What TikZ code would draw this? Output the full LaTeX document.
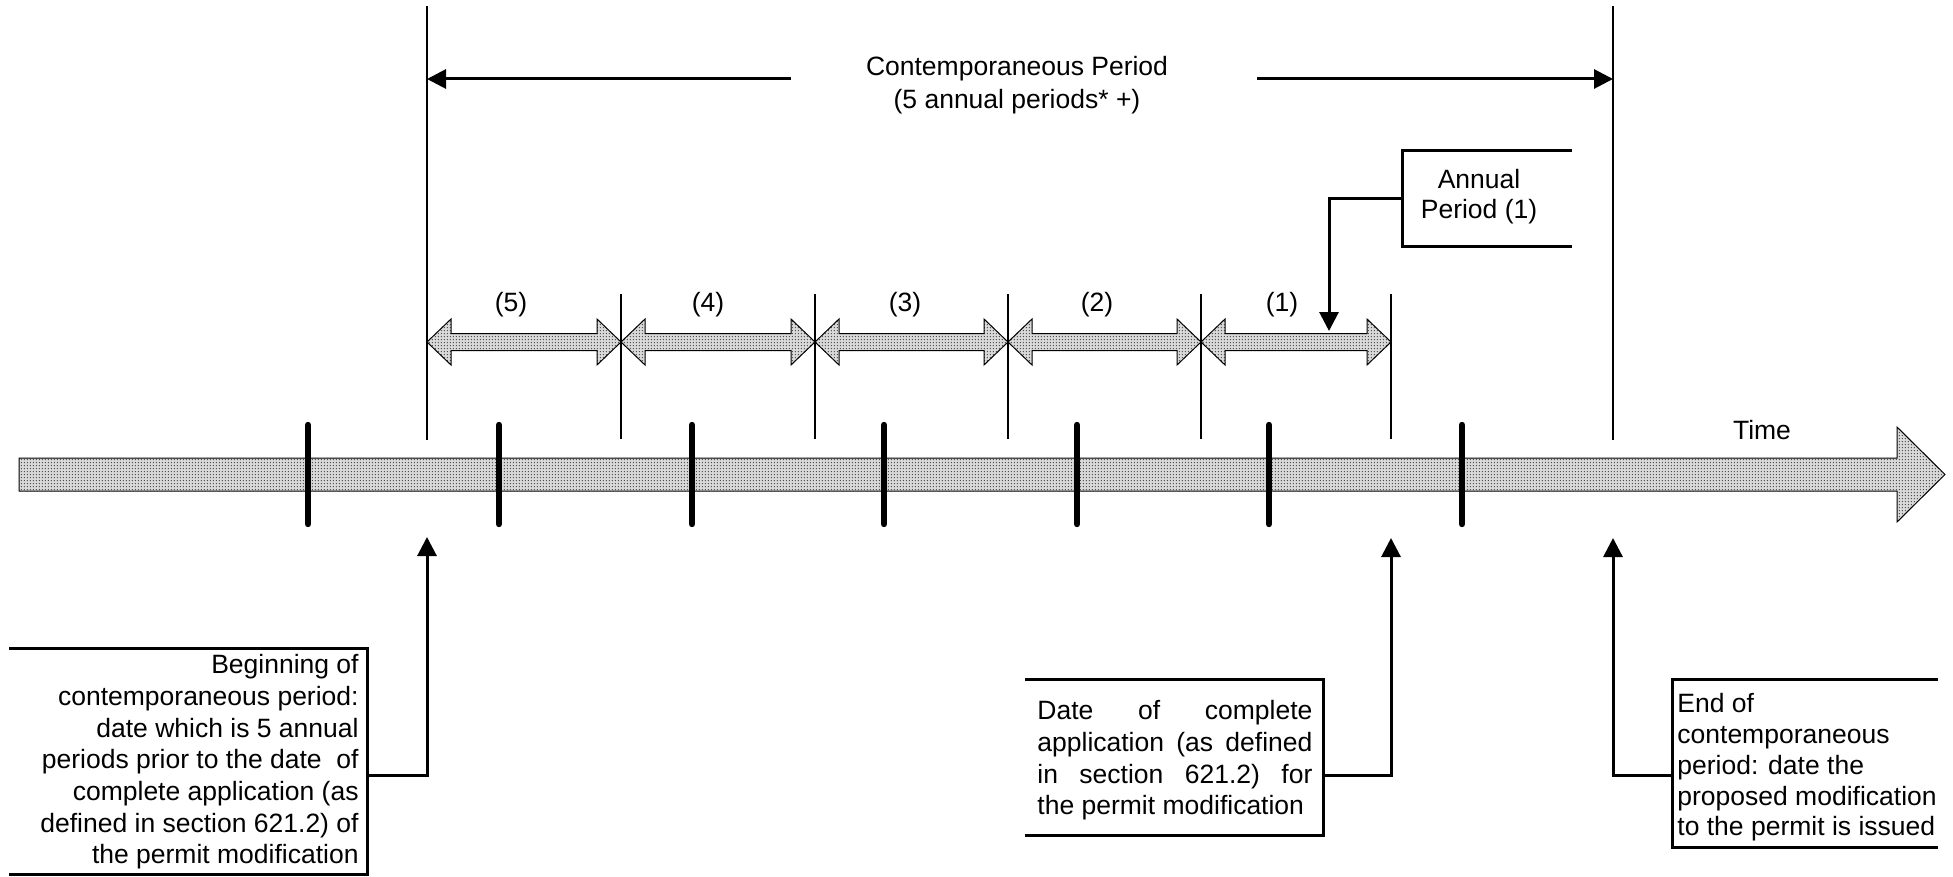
\documentclass[tikz,border=0pt]{standalone}
\usepackage{fontspec}
\setmainfont{Liberation Sans}
\usetikzlibrary{arrows.meta,patterns}
\pgfdeclarepatternformonly{finedots}{\pgfqpoint{-0.5pt}{-0.5pt}}{\pgfqpoint{1pt}{1pt}}{\pgfqpoint{1.5pt}{1.5pt}}{\pgfpathcircle{\pgfqpoint{0.4pt}{0.4pt}}{0.42pt}\pgfusepath{fill}}
\tikzset{
  dotfill/.style={draw=black, line width=0.5pt, preaction={fill=gray!30}, pattern=finedots, pattern color=gray!55!black},
  periodline/.style={line width=1pt},
  tickmark/.style={line width=3.2pt, line cap=round},
  boxline/.style={line width=1.5pt},
  conn/.style={line width=1.5pt, -{Triangle[width=9.5pt,length=9.5pt]}},
  lbl/.style={font=\fontsize{13.25}{15.8}\selectfont, inner sep=0pt}
}
\begin{document}
\begin{tikzpicture}[x=0.5pt,y=-0.5pt]
\useasboundingbox (0,0) rectangle (1953,877);

% time bar
\path[dotfill] (19,458) -- (1897,458) -- (1897,427) -- (1945,474.5) -- (1897,522) -- (1897,491) -- (19,491) -- cycle;
\node[lbl] (time) at (1762,430) {Time};

% ticks
\foreach \x [count=\i] in {308,499,692,884,1077,1269,1462} {
  \coordinate (t\i a) at (\x,425);
  \coordinate (t\i b) at (\x,524);
  \draw[tickmark] (t\i a) -- (t\i b);
}

% period boundary lines
\coordinate (b0top) at (427,6);
\coordinate (b0bot) at (427,440);
\coordinate (b6top) at (1613,6);
\coordinate (b6bot) at (1613,440);
\draw[periodline] (b0top) -- (b0bot);
\draw[periodline] (b6top) -- (b6bot);
\foreach \x [count=\i] in {621,815,1008,1201,1391} {
  \coordinate (p\i a) at (\x,294);
  \coordinate (p\i b) at (\x,439);
  \draw[periodline] (p\i a) -- (p\i b);
}

% double arrows for annual periods
\foreach \a/\b in {427/621,621/815,815/1008,1008/1201,1201/1391} {
  \path[dotfill] (\a,342) -- (\a+24,319) -- (\a+24,333.5) -- (\b-24,333.5) -- (\b-24,319) -- (\b,342)
     -- (\b-24,365) -- (\b-24,350.5) -- (\a+24,350.5) -- (\a+24,365) -- cycle;
}
\node[lbl] (l5) at (511,305) {(5)};
\node[lbl] (l4) at (708,305) {(4)};
\node[lbl] (l3) at (905,305) {(3)};
\node[lbl] (l2) at (1097,305) {(2)};
\node[lbl] (l1) at (1282,305) {(1)};

% contemporaneous period
\node[lbl, align=center, font=\fontsize{13.25}{16.5}\selectfont] (cp) at (1017,85) {Contemporaneous Period\\(5 annual periods* +)};
\coordinate (cpl) at (791,79);
\coordinate (cpr) at (1257,79);
\coordinate (cplt) at (427,79);
\coordinate (cprt) at (1613,79);
\draw[conn] (cpl) -- (cplt);
\draw[conn] (cpr) -- (cprt);

% annual period box
\draw[boxline] (1572,151) -- (1402,151) -- (1402,247) -- (1572,247);
\node[lbl, align=center, font=\fontsize{13.25}{15}\selectfont] (ap) at (1479,197) {Annual\\Period (1)};
\coordinate (apc) at (1402,199);
\coordinate (aptip) at (1329,331);
\draw[conn] (apc) -| (aptip);

% left box
\draw[boxline] (9,648) -- (367,648) -- (367,874) -- (9,874);
\node[lbl, align=right, anchor=east, font=\fontsize{13.25}{15.85}\selectfont] (lb) at (359,762) {Beginning of\\contemporaneous period:\\date which is 5 annual\\periods prior to the date\ \ of\\complete application (as\\defined in section 621.2) of\\the permit modification};
\coordinate (lbc) at (367,775);
\coordinate (lbtip) at (427,537);
\draw[conn] (lbc) -| (lbtip);

% middle box
\draw[boxline] (1025,679) -- (1323,679) -- (1323,835) -- (1025,835);
\node[lbl, align=left, anchor=west, font=\fontsize{13.25}{15.85}\selectfont] (mb) at (1037,760.5) {\makebox[137.5pt][l]{Date\hfill of\hfill complete}\\\makebox[137.5pt][l]{application\hfill (as\hfill defined}\\\makebox[137.5pt][l]{in\hfill section\hfill 621.2)\hfill for}\\the permit modification};
\coordinate (mbc) at (1323,775);
\coordinate (mbtip) at (1391,538);
\draw[conn] (mbc) -| (mbtip);

% right box
\draw[boxline] (1938,679) -- (1672,679) -- (1672,847) -- (1938,847);
\node[lbl, align=left, anchor=west, font=\fontsize{13.25}{15.4}\selectfont] (rb) at (1677,767.5) {End of\\contemporaneous\\period: date the\\proposed modification\\to the permit is issued};
\coordinate (rbc) at (1672,775);
\coordinate (rbtip) at (1613,538);
\draw[conn] (rbc) -| (rbtip);
\end{tikzpicture}
\end{document}
